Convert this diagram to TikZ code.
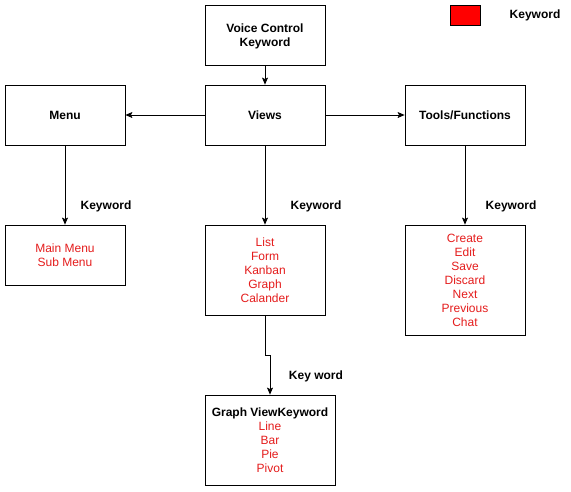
\documentclass[tikz,border=0pt]{standalone}
\usepackage{fontspec}
\setmainfont{Liberation Sans}
\usetikzlibrary{arrows.meta}
\definecolor{kw}{RGB}{228,28,28}
\begin{document}
\begin{tikzpicture}[x=1pt,y=-1pt,
  box/.style={draw,line width=0.8pt,minimum width=120pt,align=center,inner sep=0pt,font=\fontsize{12}{14}\selectfont,text depth=0pt},
  lbl/.style={font=\fontsize{12}{14}\selectfont\bfseries},
  conn/.style={line width=0.8pt,-{Stealth[length=7pt,width=6pt,inset=1.5pt]}}]
\useasboundingbox (0,0) rectangle (571,491);
\node[box,minimum height=60pt,font=\fontsize{12}{14}\selectfont\bfseries] (voice) at (265,35) {Voice Control\\Keyword};
\node[box,minimum height=60pt,font=\fontsize{12}{14}\selectfont\bfseries] (menu) at (65,115) {Menu};
\node[box,minimum height=60pt,font=\fontsize{12}{14}\selectfont\bfseries] (views) at (265,115) {Views};
\node[box,minimum height=60pt,font=\fontsize{12}{14}\selectfont\bfseries] (tools) at (465,115) {Tools/Functions};
\node[box,minimum height=60pt,text=kw] (mm) at (65,255) {Main Menu\\Sub Menu};
\node[box,minimum height=90pt,text=kw] (list) at (265,270) {List\\Form\\Kanban\\Graph\\Calander};
\node[box,minimum height=110pt,text=kw] (create) at (465,280) {Create\\Edit\\Save\\Discard\\Next\\Previous\\Chat};
\node[box,minimum width=130pt,minimum height=90pt] (graph) at (270,440) {\textbf{Graph ViewKeyword}\\\textcolor{kw}{Line}\\\textcolor{kw}{Bar}\\\textcolor{kw}{Pie}\\\textcolor{kw}{Pivot}};
\node[draw,fill=red,line width=0.8pt,minimum width=30pt,minimum height=20pt,inner sep=0pt] (leg) at (465,15) {};
\node[lbl] (legtxt) at (535,15) {Keyword};
\draw[conn] (voice) -- (views);
\draw[conn] (views) -- (menu);
\draw[conn] (views) -- (tools);
\draw[conn] (menu) -- (mm);
\draw[conn] (views) -- (list);
\draw[conn] (tools) -- (create);
\coordinate (b1) at (265,355);
\coordinate (b2) at (270,355);
\draw[conn] (list.south) -- (b1) -- (b2) -- (graph.north);
\node[lbl] (k1) at (106,206) {Keyword};
\node[lbl] (k2) at (316,206) {Keyword};
\node[lbl] (k3) at (511,206) {Keyword};
\node[lbl] (k4) at (316,376) {Key word};
\end{tikzpicture}
\end{document}
